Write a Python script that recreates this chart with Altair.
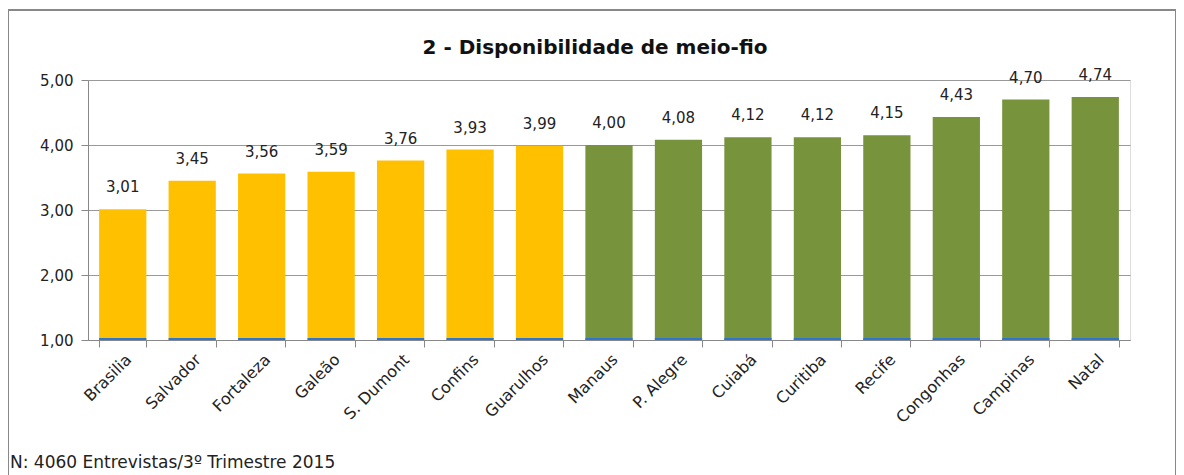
import altair as alt
import pandas as pd

airports = ["Brasilia", "Salvador", "Fortaleza", "Galeão", "S. Dumont", "Confins", "Guarulhos",
            "Manaus", "P. Alegre", "Cuiabá", "Curitiba", "Recife", "Congonhas", "Campinas", "Natal"]
values = [3.01, 3.45, 3.56, 3.59, 3.76, 3.93, 3.99, 4.00, 4.08, 4.12, 4.12, 4.15, 4.43, 4.70, 4.74]
groups = ["low"] * 7 + ["high"] * 8
base_series = [1.03] * 15

df = pd.DataFrame({"airport": airports, "value": values, "group": groups,
                   "base": [1.0] * 15, "base_top": base_series})
df["label"] = df["value"].map(lambda v: f"{v:.2f}".replace(".", ","))

FONT = "DejaVu Sans"
W, H = 1042, 260

xenc = alt.X("airport:N", sort=airports, scale=alt.Scale(paddingInner=0.32, paddingOuter=0.16),
             axis=alt.Axis(title=None, labelAngle=-45, labelFontSize=16, labelFont=FONT,
                           labelColor="#222", tickColor="#888", tickSize=7, tickBand="extent",
                           domainColor="#888", labelPadding=4))
yscale = alt.Scale(domain=[1, 5], nice=False)

bars = alt.Chart(df).mark_bar().encode(
    x=xenc,
    y=alt.Y("value:Q", scale=yscale,
            axis=alt.Axis(title=None, values=[1, 2, 3, 4, 5], grid=True, gridColor="#999",
                          labelExpr="replace(format(datum.value, '.2f'), '.', ',')",
                          labelFontSize=15, labelFont=FONT, labelColor="#222",
                          tickColor="#888", tickSize=7, domainColor="#888", labelPadding=8)),
    y2=alt.Y2("base:Q"),
    color=alt.Color("group:N", scale=alt.Scale(domain=["low", "high"], range=["#FFC000", "#77933C"]),
                    legend=None),
)

baseline = alt.Chart(df).mark_bar(color="#2E75D0").encode(
    x=alt.X("airport:N", sort=airports),
    y=alt.Y("base_top:Q", scale=yscale),
    y2="base:Q",
)

labels = alt.Chart(df).mark_text(dy=-14, fontSize=15, font=FONT, color="#222", baseline="bottom").encode(
    x=alt.X("airport:N", sort=airports),
    y=alt.Y("value:Q", scale=yscale),
    text="label:N",
)

title = alt.Chart(pd.DataFrame({"t": ["2 - Disponibilidade de meio-fio"]})).mark_text(
    align="center", baseline="middle", fontSize=20, font=FONT, fontWeight="bold", color="#111"
).encode(x=alt.value(W / 2 - 14), y=alt.value(-32), text="t:N")

note = alt.Chart(pd.DataFrame({"t": ["N: 4060 Entrevistas/3º Trimestre 2015"]})).mark_text(
    align="left", baseline="middle", fontSize=17, font=FONT, color="#222"
).encode(x=alt.value(-78), y=alt.value(383), text="t:N")

border = alt.Chart(pd.DataFrame({"k": [0]})).mark_rect(
    fill=None, stroke="#888", strokeWidth=2
).encode(x=alt.value(-80), x2=alt.value(W + 46), y=alt.value(-70), y2=alt.value(H + 160))

chart = alt.layer(border, bars, baseline, labels, title, note).properties(
    width=W, height=H,
    autosize=alt.AutoSizeParams(type="none"),
    padding={"left": 80, "top": 72, "right": 46, "bottom": 140},
).configure_view(stroke=None).configure(background="white")

chart.save("out.html", embed_options={"renderer": "svg", "actions": False})
